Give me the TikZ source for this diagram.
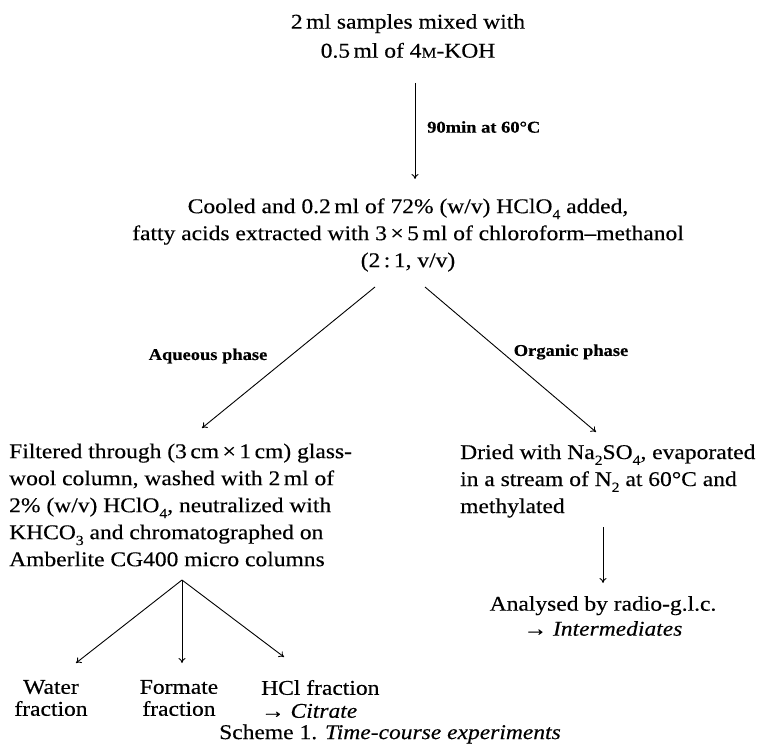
\documentclass[tikz,border=0pt]{standalone}
\usepackage{fontspec}
\setmainfont[FakeStretch=1.12, FakeBold=0.3]{Liberation Serif}
\usetikzlibrary{arrows.meta}
\newcommand{\smallM}{{\fontsize{15}{15}\selectfont M}}
\newcommand{\mysub}[1]{\raisebox{-0.28em}{\fontsize{14}{14}\selectfont #1}}
\tikzset{
  txt/.style={inner sep=0pt, font=\fontsize{21}{27}\selectfont},
  lbl/.style={inner sep=0pt, font=\fontsize{16.5}{18}\selectfont\bfseries},
  arr/.style={line width=0.9pt, -{To[length=5pt,width=7pt]}},
}
\begin{document}
\begin{tikzpicture}[x=1pt,y=-1pt]
\useasboundingbox (0,0) rectangle (765,746);
\node[txt, align=center, font=\fontsize{21}{29}\selectfont] (top) at (408,36) {2\,ml samples mixed with\\0.5\,ml of 4\smallM-KOH};
\node[txt, align=center] (mid) at (408,235) {Cooled and 0.2\,ml of 72\% (w/v) HClO\mysub{4} added,\\fatty acids extracted with 3\,×\,5\,ml of chloroform–methanol\\(2\,:\,1, v/v)};
\node[txt, align=left, anchor=west] (left) at (9,505) {Filtered through (3\,cm\,×\,1\,cm) glass-\\wool column, washed with 2\,ml of\\2\% (w/v) HClO\mysub{4}, neutralized with\\KHCO\mysub{3} and chromatographed on\\Amberlite CG400 micro columns};
\node[txt, align=left, anchor=west] (right) at (460,481) {Dried with Na\mysub{2}SO\mysub{4}, evaporated\\in a stream of N\mysub{2} at 60°C and\\methylated};
\node[txt, align=center, font=\fontsize{21}{25}\selectfont] (anal) at (603,616) {Analysed by radio-g.l.c.\\→ \textit{Intermediates}};
\node[txt, align=center, font=\fontsize{21}{22}\selectfont] (water) at (51,698) {Water\\fraction};
\node[txt, align=center, font=\fontsize{21}{22}\selectfont] (formate) at (179,698) {Formate\\fraction};
\node[txt, align=left, anchor=west, font=\fontsize{21}{23}\selectfont] (hcl) at (261,699) {HCl fraction\\→ \textit{Citrate}};
\node[txt] (scheme) at (390,734) {Scheme 1. \textit{Time-course experiments}};
\node[lbl, anchor=west] (l1) at (427,127) {90min at 60°C};
\node[lbl] (l2) at (208,356) {Aqueous phase};
\node[lbl] (l3) at (571,352) {Organic phase};
\coordinate (a1s) at (415,83);
\coordinate (a1e) at (415,179);
\coordinate (bls) at (375,287);
\coordinate (ble) at (202,428);
\coordinate (brs) at (425,287);
\coordinate (bre) at (596,432);
\coordinate (a2s) at (603,527);
\coordinate (a2e) at (603,583);
\coordinate (fork) at (182,580);
\coordinate (f1) at (76,663);
\coordinate (f2) at (182,663);
\coordinate (f3) at (284,657);
\draw[arr] (a1s) -- (a1e);
\draw[arr] (bls) -- (ble);
\draw[arr] (brs) -- (bre);
\draw[arr] (a2s) -- (a2e);
\draw[arr] (fork) -- (f1);
\draw[arr] (fork) -- (f2);
\draw[arr] (fork) -- (f3);
\end{tikzpicture}
\end{document}
